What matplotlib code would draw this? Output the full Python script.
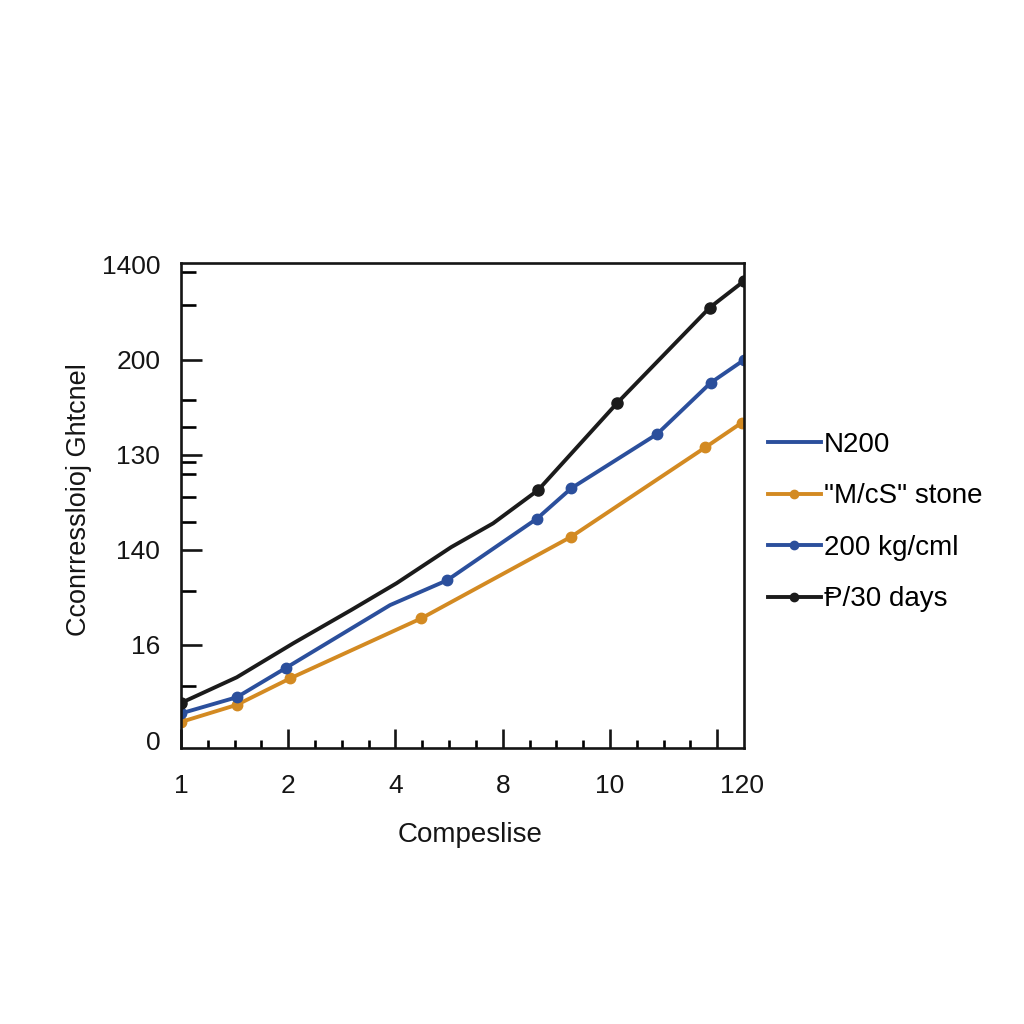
import matplotlib
matplotlib.use("Agg")
import matplotlib.pyplot as plt
from matplotlib.lines import Line2D

plt.rcParams['font.family'] = ['Liberation Sans', 'DejaVu Sans']

# ---- data (positions on the axis scale: x ticks 0..5, y ticks 0..5) ----
x_tick_pos = [0, 1, 2, 3, 4, 5, 5.23]
x_tick_labels = ["1", "2", "4", "8", "10", "", "120"]
y_tick_pos = [0, 1, 2, 3, 4, 5]
y_tick_labels = ["0", "16", "140", "130", "200", "1400"]
y_minor_pos = [0.57, 1.57, 2.29, 2.56, 2.80, 2.93, 3.29, 3.58, 4.58, 4.93]

black_x = [0.0, 0.52, 1.05, 1.59, 2.01, 2.52, 2.91, 3.33, 4.07, 4.93, 5.25]
black_y = [0.39, 0.66, 1.02, 1.37, 1.65, 2.03, 2.28, 2.63, 3.55, 4.55, 4.83]
black_marks = [0, 7, 8, 9, 10]

blue_x = [0.0, 0.52, 0.98, 1.95, 2.48, 3.32, 3.64, 4.44, 4.94, 5.25]
blue_y = [0.28, 0.45, 0.76, 1.42, 1.68, 2.33, 2.65, 3.22, 3.76, 4.00]
blue_marks = [0, 1, 2, 4, 5, 6, 7, 8, 9]

orange_x = [0.0, 0.52, 1.02, 2.24, 3.64, 4.89, 5.23]
orange_y = [0.19, 0.37, 0.65, 1.28, 2.14, 3.08, 3.34]

legend_labels = ["N200", '"M/cS" stone', "200 kg/cml", "\u2c63/30 days"]

BLACK = "#1b1b1b"
BLUE = "#2b4f9c"
ORANGE = "#d38a22"

fig = plt.figure(figsize=(10.24, 10.24), dpi=100)
ax = fig.add_axes([181/1024, 1-748/1024, (744-181)/1024, (748-263)/1024])

lw = 2.8
ax.plot(orange_x, orange_y, color=ORANGE, lw=lw, marker='o', ms=7.5)
ax.plot(blue_x, blue_y, color=BLUE, lw=lw, marker='o', ms=7.5, markevery=blue_marks)
ax.plot(black_x, black_y, color=BLACK, lw=lw, marker='o', ms=8, markevery=black_marks)

ax.set_xlim(0, 5.25)
ax.set_ylim(-0.084, 5.02)

for s in ax.spines.values():
    s.set_linewidth(1.9)
    s.set_color("#151515")

# x ticks
ax.set_xticks(x_tick_pos)
ax.set_xticklabels(x_tick_labels, fontsize=19)
ax.set_xticks([i + f for i in range(5) for f in (0.25, 0.5, 0.75)], minor=True)
ax.tick_params(axis='x', which='major', direction='in', length=14, width=1.9, pad=19, colors="#151515")
ax.tick_params(axis='x', which='minor', direction='in', length=6, width=1.9)
ax.xaxis.get_major_ticks()[-1].tick1line.set_visible(False)

# y ticks
ax.set_yticks(y_tick_pos)
ax.set_yticklabels(y_tick_labels, fontsize=19)
ax.set_yticks(y_minor_pos, minor=True)
ax.tick_params(axis='y', which='major', direction='in', length=15, width=1.9, pad=15, colors="#151515")
ax.tick_params(axis='y', which='minor', direction='in', length=11, width=1.9)
yt = ax.yaxis.get_major_ticks()
yt[0].tick1line.set_visible(False)
yt[-1].tick1line.set_visible(False)

ax.set_xlabel("Compeslise", fontsize=20, color="#151515")
ax.xaxis.set_label_coords((470-181)/563, -(74)/485)
ax.set_ylabel("Cconrressloioj Ghtcnel", fontsize=19.5, color="#151515")
ax.yaxis.set_label_coords(-(181-92)/563, (748-500)/485)

handles = [
    Line2D([], [], color=BLUE, lw=lw),
    Line2D([], [], color=ORANGE, lw=lw, marker='o', ms=6),
    Line2D([], [], color=BLUE, lw=lw, marker='o', ms=6),
    Line2D([], [], color=BLACK, lw=lw, marker='o', ms=6),
]
fig.legend(handles, legend_labels, loc='center left',
           bbox_to_anchor=(768/1024, 1-522/1024), frameon=False,
           fontsize=20, handlelength=1.9, handletextpad=0.1, labelspacing=0.92,
           borderpad=0, borderaxespad=0)

fig.savefig("out.png", dpi=100, facecolor="white")
